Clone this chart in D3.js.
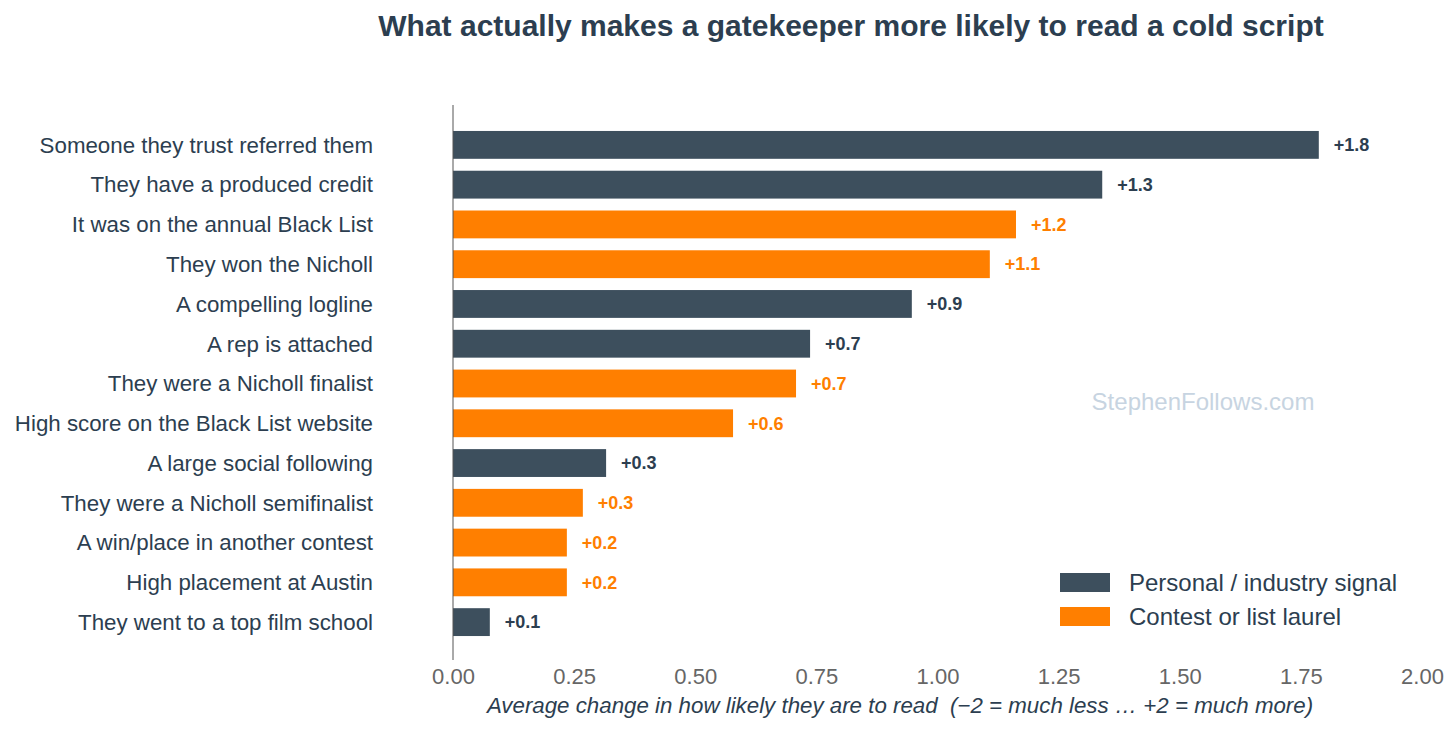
<!DOCTYPE html>
<html>
<head>
<meta charset="utf-8">
<script src="https://cdn.jsdelivr.net/npm/d3@7"></script>
<style>
  body { margin: 0; background: #fff; }
  text { font-family: "Liberation Sans", Arial, Helvetica, sans-serif; }
</style>
</head>
<body>
<script>
//chart data
var categories = [
    "Someone they trust referred them",
    "They have a produced credit",
    "It was on the annual Black List",
    "They won the Nicholl",
    "A compelling logline",
    "A rep is attached",
    "They were a Nicholl finalist",
    "High score on the Black List website",
    "A large social following",
    "They were a Nicholl semifinalist",
    "A win/place in another contest",
    "High placement at Austin",
    "They went to a top film school"
];
var values = [1.787, 1.340, 1.162, 1.108, 0.947, 0.737, 0.708, 0.578, 0.316, 0.268, 0.235, 0.235, 0.076];
var groups = ["personal", "personal", "contest", "contest", "personal", "personal", "contest",
    "contest", "personal", "contest", "contest", "contest", "personal"];
var legendLabels = ["Personal / industry signal", "Contest or list laurel"];
var xTicks = [0, 0.25, 0.5, 0.75, 1, 1.25, 1.5, 1.75, 2];

window.onload = drawChart();

function drawChart(){

    var width = 1456,
        height = 730;

    var dark = "#3d4f5d",
        orange = "#ff7f00",
        textColor = "#2c3e50";

    var svg = d3.select("body")
        .append("svg")
        .attr("width", width)
        .attr("height", height);

    var x = d3.scaleLinear()
        .domain([0, 2])
        .range([453, 1422]);

    var y = d3.scaleBand()
        .domain(categories)
        .range([125, 642])
        .paddingInner(0.3)
        .paddingOuter(0.15);

    var color = function(g){ return g === "contest" ? orange : dark; };

    //title
    svg.append("text")
        .attr("x", 851)
        .attr("y", 36)
        .attr("text-anchor", "middle")
        .attr("font-size", 30)
        .attr("font-weight", "bold")
        .attr("fill", textColor)
        .text("What actually makes a gatekeeper more likely to read a cold script");

    //watermark
    svg.append("text")
        .attr("x", 1203)
        .attr("y", 410)
        .attr("text-anchor", "middle")
        .attr("font-size", 24)
        .attr("fill", "#c7d4e1")
        .text("StephenFollows.com");

    //bars
    svg.selectAll(".bar")
        .data(values)
        .enter()
        .append("rect")
        .attr("class", "bar")
        .attr("x", x(0))
        .attr("y", function(d, i){ return y(categories[i]); })
        .attr("width", function(d){ return x(d) - x(0); })
        .attr("height", y.bandwidth())
        .attr("fill", function(d, i){ return color(groups[i]); });

    //value labels
    var fmt = d3.format("+.1f");
    svg.selectAll(".val")
        .data(values)
        .enter()
        .append("text")
        .attr("class", "val")
        .attr("x", function(d){ return x(d) + 15; })
        .attr("y", function(d, i){ return y(categories[i]) + y.bandwidth() / 2; })
        .attr("dy", "0.35em")
        .attr("font-size", 18)
        .attr("font-weight", "bold")
        .attr("fill", function(d, i){ return groups[i] === "contest" ? orange : textColor; })
        .text(function(d){ return fmt(d); });

    //category labels
    svg.selectAll(".cat")
        .data(categories)
        .enter()
        .append("text")
        .attr("class", "cat")
        .attr("x", 373)
        .attr("y", function(d){ return y(d) + y.bandwidth() / 2; })
        .attr("dy", "0.35em")
        .attr("text-anchor", "end")
        .attr("font-size", 22.3)
        .attr("fill", textColor)
        .text(function(d){ return d; });

    //left spine
    svg.append("line")
        .attr("x1", x(0)).attr("x2", x(0))
        .attr("y1", 105).attr("y2", 660)
        .attr("stroke", "#555")
        .attr("stroke-width", 1);

    //x axis (labels only)
    var xAxis = svg.append("g")
        .attr("transform", "translate(0,660)")
        .call(d3.axisBottom(x).tickValues(xTicks).tickFormat(d3.format(".2f")).tickSize(0).tickPadding(8));
    xAxis.select(".domain").remove();
    xAxis.selectAll("text")
        .attr("font-size", 22)
        .attr("font-family", "Liberation Sans, Arial, sans-serif")
        .attr("fill", "#666");

    svg.append("text")
        .attr("x", 900)
        .attr("y", 713)
        .attr("text-anchor", "middle")
        .attr("font-size", 22.3)
        .attr("font-style", "italic")
        .attr("fill", textColor)
        .style("white-space", "pre")
        .text("Average change in how likely they are to read  (\u22122 = much less \u2026 +2 = much more)");

    //legend
    var legend = svg.selectAll(".legend")
        .data(legendLabels)
        .enter()
        .append("g")
        .attr("class", "legend")
        .attr("transform", function(d, i){ return "translate(1060," + (573 + i * 34) + ")"; });

    legend.append("rect")
        .attr("width", 50)
        .attr("height", 19)
        .attr("fill", function(d, i){ return i === 0 ? dark : orange; });

    legend.append("text")
        .attr("x", 69)
        .attr("y", 10)
        .attr("dy", "0.35em")
        .attr("font-size", 24)
        .attr("fill", textColor)
        .text(function(d){ return d; });
};
</script>
</body>
</html>
